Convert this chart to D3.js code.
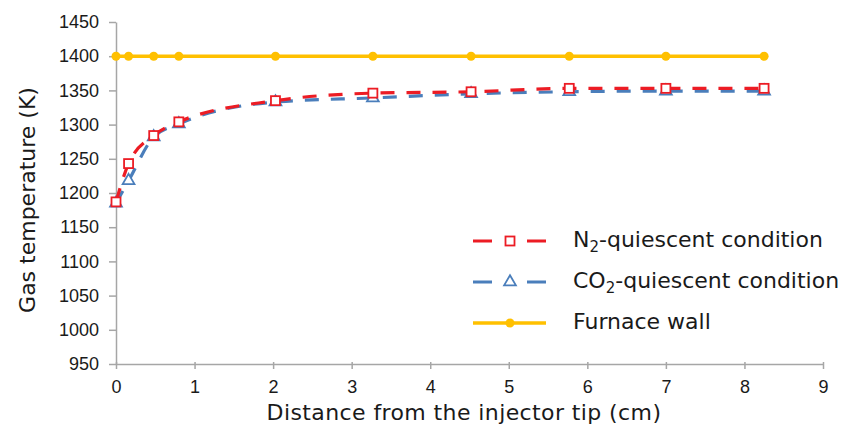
<!DOCTYPE html>
<html>
<head>
<meta charset="utf-8">
<script src="https://cdn.jsdelivr.net/npm/d3@7"></script>
<style>
  body { margin: 0; background: #fff; }
  svg { font-family: "DejaVu Sans", "Liberation Sans", Arial, sans-serif; }
</style>
</head>
<body>
<div id="chart"></div>
<script>
// distance from injector tip (cm)
const distances = [0, 0.16, 0.48, 0.8, 2.03, 3.27, 4.52, 5.77, 7.0, 8.25];
// gas temperature (K)
const n2Temps = [1187, 1243, 1284, 1304, 1335, 1346, 1348, 1353, 1353, 1353];
const co2Temps = [1185, 1218, 1282, 1301, 1333, 1339, 1345, 1348, 1349, 1349];
const wallTemps = [1400, 1400, 1400, 1400, 1400, 1400, 1400, 1400, 1400, 1400];
const xTicks = [0, 1, 2, 3, 4, 5, 6, 7, 8, 9];
const yTicks = [950, 1000, 1050, 1100, 1150, 1200, 1250, 1300, 1350, 1400, 1450];

const width = 846, height = 432;
const margin = {top: 22, right: 23, bottom: 68, left: 116};

const svg = d3.select("#chart").append("svg")
    .attr("width", width)
    .attr("height", height);

const x = d3.scaleLinear().domain([0, 9]).range([margin.left, width - margin.right]);
const y = d3.scaleLinear().domain([950, 1450]).range([height - margin.bottom, margin.top]);

const axisColor = "#a6a6a6";
const textColor = "#1a1a1a";

// x axis
const xAxis = svg.append("g")
    .attr("transform", `translate(0, ${y(950)})`)
    .call(d3.axisBottom(x).tickValues(xTicks).tickFormat(d3.format("d"))
        .tickSize(6).tickSizeOuter(0).tickPadding(10));
// y axis
const yAxis = svg.append("g")
    .attr("transform", `translate(${x(0)}, 0)`)
    .call(d3.axisLeft(y).tickValues(yTicks).tickFormat(d3.format("d"))
        .tickSize(7).tickSizeOuter(0).tickPadding(10));

[xAxis, yAxis].forEach(a => {
    a.select(".domain").attr("stroke", axisColor).attr("stroke-width", 1.5);
    a.selectAll(".tick line").attr("stroke", axisColor).attr("stroke-width", 1.5);
    a.selectAll(".tick text").attr("fill", textColor).attr("font-size", 18);
});
xAxis.selectAll(".tick line").attr("y1", -2).attr("y2", 5);

// axis titles
svg.append("text")
    .attr("x", 464)
    .attr("y", 420)
    .attr("text-anchor", "middle")
    .attr("font-size", 22)
    .attr("letter-spacing", 0.4)
    .attr("fill", textColor)
    .text("Distance from the injector tip (cm)");

svg.append("text")
    .attr("transform", `translate(35, 200) rotate(-90)`)
    .attr("text-anchor", "middle")
    .attr("font-size", 22)
    .attr("fill", textColor)
    .text("Gas temperature (K)");

const series = [
    {name: "N2", values: n2Temps, color: "#ec1c24", dash: "14,12", marker: "square"},
    {name: "CO2", values: co2Temps, color: "#4a7ebb", dash: "14,12", marker: "triangle"},
    {name: "wall", values: wallTemps, color: "#ffc000", dash: null, marker: "circle"}
];

const curved = d3.line()
    .x(d => x(d[0]))
    .y(d => y(d[1]))
    .curve(d3.curveMonotoneX);
const straight = d3.line()
    .x(d => x(d[0]))
    .y(d => y(d[1]));

function drawMarker(g, type, color, cx, cy) {
    if (type === "square") {
        g.append("rect")
            .attr("x", cx - 4.5).attr("y", cy - 4.5)
            .attr("width", 9).attr("height", 9)
            .attr("fill", "#fff").attr("stroke", color).attr("stroke-width", 1.8);
    } else if (type === "triangle") {
        g.append("path")
            .attr("d", d3.symbol().type(d3.symbolTriangle).size(60)())
            .attr("transform", `translate(${cx}, ${cy})`)
            .attr("fill", "#fff").attr("stroke", color).attr("stroke-width", 1.8);
    } else {
        g.append("circle")
            .attr("cx", cx).attr("cy", cy).attr("r", 4.5)
            .attr("fill", color);
    }
}

// draw order: CO2 first, then N2, wall on top
[series[1], series[0], series[2]].forEach(s => {
    const pts = distances.map((d, i) => [d, s.values[i]]);
    const g = svg.append("g");
    g.append("path")
        .attr("d", s.marker === "circle" ? straight(pts) : curved(pts))
        .attr("fill", "none")
        .attr("stroke", s.color)
        .attr("stroke-width", s.marker === "circle" ? 3.5 : 3.2)
        .attr("stroke-dasharray", s.dash);
    pts.forEach(p => drawMarker(g, s.marker, s.color, x(p[0]), y(p[1])));
});

// legend
const legendItems = [
    {s: series[0], y: 241, label: ["N", "2", "-quiescent condition"]},
    {s: series[1], y: 282, label: ["CO", "2", "-quiescent condition"]},
    {s: series[2], y: 323, label: ["Furnace wall"]}
];
const legend = svg.append("g");
legendItems.forEach(item => {
    const g = legend.append("g");
    g.append("line")
        .attr("x1", 473).attr("x2", 546)
        .attr("y1", item.y).attr("y2", item.y)
        .attr("stroke", item.s.color)
        .attr("stroke-width", item.s.marker === "circle" ? 3.5 : 3.2)
        .attr("stroke-dasharray", item.s.dash ? "19,35" : null);
    drawMarker(g, item.s.marker, item.s.color, 510, item.y);
    const t = g.append("text")
        .attr("x", 573)
        .attr("y", item.y + 6)
        .attr("font-size", 22)
        .attr("fill", textColor);
    if (item.label.length === 1) {
        t.text(item.label[0]);
    } else {
        t.append("tspan").text(item.label[0]);
        t.append("tspan").attr("font-size", 15).attr("dy", 5).text(item.label[1]);
        t.append("tspan").attr("dy", -5).text(item.label[2]);
    }
});
</script>
</body>
</html>
